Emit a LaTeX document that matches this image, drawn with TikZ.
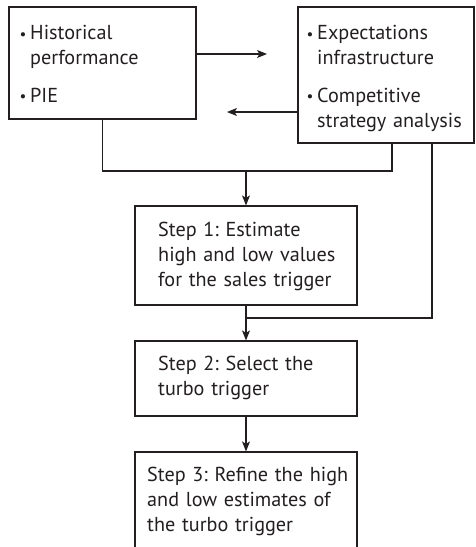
\documentclass[tikz,border=0pt]{standalone}
\usepackage{fontspec}
\setmainfont{PT Sans}
\usetikzlibrary{arrows.meta,calc}
\definecolor{ink}{HTML}{231F20}
\newcommand{\bul}{\makebox[9pt][l]{\hspace{-1.5pt}\raisebox{0.5pt}{\scalebox{0.75}{\textbullet}}}}
\newcommand{\hang}{\hspace*{9pt}}
\frenchspacing
\begin{document}
\begin{tikzpicture}[x=1pt,y=-1pt,
  box/.style={draw=ink, line width=1.2pt, inner sep=0pt},
  txt/.style={anchor=base west, inner sep=0pt, text width=240pt, align=left, text=ink,
    font=\fontsize{20.2}{25}\selectfont},
  ln/.style={draw=ink, line width=1.2pt},
  arr/.style={ln, -{Stealth[length=10pt,width=8pt,inset=2.5pt]}}]
\useasboundingbox (0,0) rectangle (475,547);
\clip (0,0) rectangle (475,547);
% boxes
\node[box, minimum width=187pt, minimum height=112pt] (A) at (102.5,63) {};
\node[box, minimum width=176pt, minimum height=136pt] (B) at (386,75) {};
\node[box, minimum width=222pt, minimum height=99pt] (S1) at (246,255.5) {};
\node[box, minimum width=222pt, minimum height=75pt] (S2) at (246,378.5) {};
\node[box, minimum width=222pt, minimum height=100pt] (S3) at (246,502) {};
% texts
\node[txt] (tA) at (21,39.5) {\bul Historical\\\hang performance\\[12.7pt]\bul PIE};
\node[txt] (tB) at (308,39.5) {\bul Expectations\\\hang infrastructure\\[12.7pt]\bul Competitive\\\hang strategy analysis};
\node[txt] (t1) at (158,236.7) {Step 1: Estimate\\high and low values\\for the sales trigger};
\node[txt] (t2) at (158,370.5) {Step 2: Select the\\turbo trigger};
\node[txt] (t3) at (147,481.7) {Step 3: Refine the high\\and low estimates of\\the turbo trigger};
% connectors
\coordinate (r1) at (267,54);
\coordinate (l1) at (227,112);
\draw[arr] (A.east |- r1) -- (r1);
\draw[arr] (B.west |- l1) -- (l1);
\coordinate (m1) at (246,171);
\coordinate (bL) at (392,143);
\draw[ln] (A.south) |- (m1) -| (bL);
\draw[arr] (m1) -- (S1.north);
\coordinate (bR) at (432,143);
\coordinate (m2) at (246,318);
\draw[ln] (bR) |- (m2);
\draw[arr] (S1.south) -- (S2.north);
\draw[arr] (S2.south) -- (S3.north);
\end{tikzpicture}
\end{document}
